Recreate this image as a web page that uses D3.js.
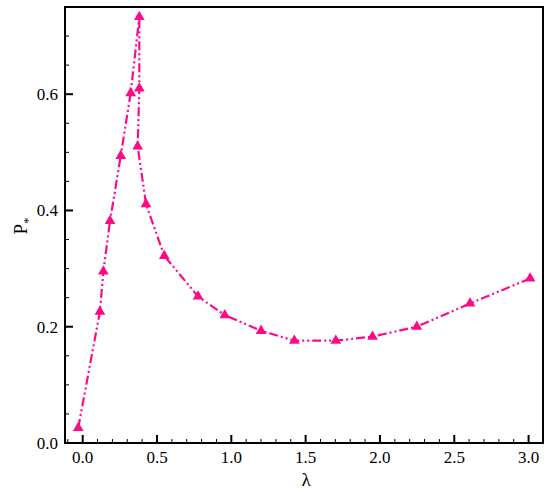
<!DOCTYPE html>
<html><head><meta charset="utf-8">
<script src="https://cdn.jsdelivr.net/npm/d3@7"></script>
<style>body{margin:0;background:#fff}svg{display:block}text{font-family:"Liberation Serif","Times New Roman",Times,serif}</style>
</head><body>
<svg id="c" width="550" height="492"></svg>
<script>
const lambdaVals = [-0.030, 0.116, 0.139, 0.184, 0.256, 0.323, 0.381, 0.381, 0.370, 0.426, 0.549, 0.776, 0.956, 1.200, 1.424, 1.703, 1.950, 2.248, 2.606, 3.010];
const pStarVals  = [0.026, 0.226, 0.295, 0.382, 0.494, 0.602, 0.733, 0.610, 0.510, 0.411, 0.322, 0.252, 0.220, 0.193, 0.176, 0.176, 0.183, 0.200, 0.240, 0.283];
const xTickLabels = ["0.0","0.5","1.0","1.5","2.0","2.5","3.0"];
const yTickLabels = ["0.0","0.2","0.4","0.6"];

const svg = d3.select("#c");
const L = 65, R = 543, T = 7, B = 443;
const x = d3.scaleLinear().domain([-0.119, 3.097]).range([L, R]);
const y = d3.scaleLinear().domain([0, 0.75]).range([B, T]);
const color = "#ff0a86";

const g = svg.append("g");
const xMinor = d3.range(-0.1, 3.1001, 0.1).map(v => +v.toFixed(2));
const yMinor = d3.range(0, 0.7501, 0.05).map(v => +v.toFixed(3));
const xMajor = xTickLabels.map(Number);
const yMajor = yTickLabels.map(Number);

g.selectAll(".xm").data(xMinor.filter(v => !xMajor.some(m => Math.abs(m - v) < 1e-6)))
 .join("line").attr("x1", d => x(d)).attr("x2", d => x(d)).attr("y1", B).attr("y2", B - 4)
 .attr("stroke", "#000").attr("stroke-width", 1);
g.selectAll(".xM").data(xMajor)
 .join("line").attr("x1", d => x(d)).attr("x2", d => x(d)).attr("y1", B).attr("y2", B - 8)
 .attr("stroke", "#000").attr("stroke-width", 2);
g.selectAll(".ym").data(yMinor.filter(v => !yMajor.some(m => Math.abs(m - v) < 1e-6)))
 .join("line").attr("x1", L).attr("x2", L + 4).attr("y1", d => y(d)).attr("y2", d => y(d))
 .attr("stroke", "#000").attr("stroke-width", 1);
g.selectAll(".yM").data(yMajor)
 .join("line").attr("x1", L).attr("x2", L + 8).attr("y1", d => y(d)).attr("y2", d => y(d))
 .attr("stroke", "#000").attr("stroke-width", 2);

g.selectAll(".xl").data(xTickLabels).join("text")
 .attr("x", d => x(+d)).attr("y", 463).attr("text-anchor", "middle")
 .attr("font-size", 17).text(d => d);
g.selectAll(".yl").data(yTickLabels).join("text")
 .attr("x", 58).attr("y", d => y(+d) + 6).attr("text-anchor", "end")
 .attr("font-size", 17).text(d => d);

svg.append("rect").attr("x", L).attr("y", T).attr("width", R - L).attr("height", B - T)
 .attr("fill", "none").attr("stroke", "#000").attr("stroke-width", 2);

svg.append("text").attr("x", 306).attr("y", 486).attr("text-anchor", "middle")
 .attr("font-size", 19).text("λ");
const yt = svg.append("text").attr("transform", "translate(27,226) rotate(-90)")
 .attr("text-anchor", "middle").attr("font-size", 19);
yt.append("tspan").text("P");
yt.append("tspan").attr("font-size", 13).attr("dy", 5).text("*");

const pts = lambdaVals.map((v, i) => [v, pStarVals[i]]);
svg.append("path").datum(pts)
 .attr("d", d3.line().x(d => x(d[0])).y(d => y(d[1])))
 .attr("fill", "none").attr("stroke", color).attr("stroke-width", 2.2)
 .attr("stroke-dasharray", "9,3,2,3,2,3");
svg.selectAll(".mk").data(pts).join("path")
 .attr("transform", d => `translate(${x(d[0])},${y(d[1])})`)
 .attr("d", d3.symbol().type(d3.symbolTriangle).size(50))
 .attr("fill", color);
</script>
</body></html>
